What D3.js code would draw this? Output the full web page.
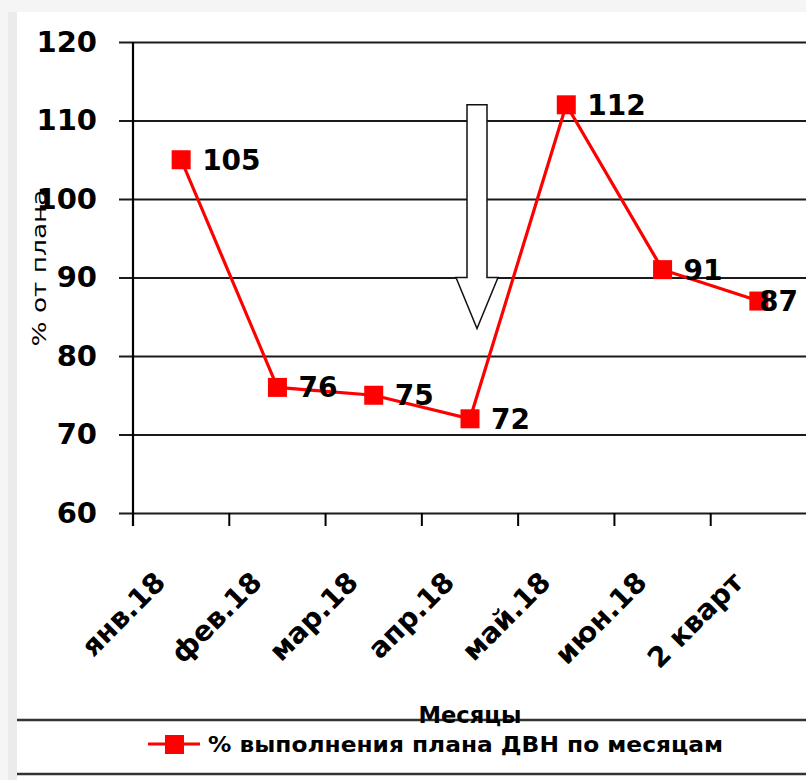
<!DOCTYPE html>
<html>
<head>
<meta charset="utf-8">
<script src="https://cdn.jsdelivr.net/npm/d3@7"></script>
<style>
  body { margin: 0; background: #f5f5f5; }
  svg { display: block; }
</style>
</head>
<body>
<div id="chart"></div>
<script>
const categories = ['янв.18', 'фев.18', 'мар.18', 'апр.18', 'май.18', 'июн.18', '2 кварт'];
const planValues = [105, 76, 75, 72, 112, 91, 87];
const yTicks = [60, 70, 80, 90, 100, 110, 120];
const seriesName = '% выполнения плана ДВН по месяцам';
const yTitle = '% от плана';
const xTitle = 'Месяцы';
// hollow arrow annotation (value range on the y scale)
const arrowAt = 'апр.18';
const arrowValues = [112, 90, 83.5];

const W = 806, H = 780;
const margin = { top: 42, left: 133, bottom: 513, right: 807 };
const red = '#ff0000';

const svg = d3.select('#chart')
  .append('svg')
  .attr('width', W)
  .attr('height', H);

// background panels
svg.append('rect').attr('width', W).attr('height', H).attr('fill', '#f5f5f5');
svg.append('rect').attr('x', 8).attr('y', 12).attr('width', 9).attr('height', H - 12).attr('fill', '#ebebeb');
svg.append('rect').attr('x', 17).attr('y', 12).attr('width', W - 17).attr('height', H - 12).attr('fill', '#fff');

// Scales
const y = d3.scaleLinear()
  .domain([60, 120])
  .range([margin.bottom, margin.top]);

const x = d3.scaleBand()
  .domain(categories)
  .range([margin.left, margin.right])
  .padding(0);

const cx = d => x(d) + x.bandwidth() / 2;

// y axis with gridlines
const yAxisGroup = svg.append('g')
  .attr('transform', `translate(119, 0)`)
  .call(d3.axisLeft(y)
    .tickValues(yTicks)
    .tickSizeInner(-(margin.right - 119))
    .tickSizeOuter(0)
    .tickPadding(22));

yAxisGroup.select('.domain').remove();
yAxisGroup.selectAll('line')
  .attr('stroke', '#1a1a1a')
  .attr('stroke-width', 2.2);
yAxisGroup.selectAll('text')
  .attr('fill', '#000')
  .style('font-family', 'DejaVu Sans, sans-serif')
  .style('font-weight', 'bold')
  .style('font-size', '29px');

// vertical axis line
svg.append('line')
  .attr('x1', margin.left).attr('x2', margin.left)
  .attr('y1', margin.top).attr('y2', margin.bottom + 13)
  .attr('stroke', '#000')
  .attr('stroke-width', 2.2);

// x ticks at category boundaries
svg.append('g')
  .selectAll('line')
  .data(categories)
  .enter()
  .append('line')
  .attr('x1', d => x(d)).attr('x2', d => x(d))
  .attr('y1', margin.bottom).attr('y2', margin.bottom + 13)
  .attr('stroke', '#000')
  .attr('stroke-width', 2);

// x labels
svg.append('g')
  .selectAll('text')
  .data(categories)
  .enter()
  .append('text')
  .attr('transform', d => `translate(${cx(d) - 14}, 584) rotate(-45)`)
  .attr('text-anchor', 'end')
  .style('font-family', 'DejaVu Sans, sans-serif')
  .style('font-weight', 'bold')
  .style('font-size', '28px')
  .attr('fill', '#000')
  .text(d => d);

// axis titles
svg.append('text')
  .attr('transform', `translate(46, 268) rotate(-90)`)
  .attr('text-anchor', 'middle')
  .attr('textLength', 157)
  .attr('lengthAdjust', 'spacingAndGlyphs')
  .style('font-family', 'DejaVu Sans, sans-serif')
  .style('font-size', '19px')
  .text(yTitle);

// arrow annotation
const ax = cx(arrowAt) + 7;
const [aTop, aShoulder, aTip] = arrowValues.map(v => y(v));
svg.append('path')
  .attr('d', `M${ax - 10},${aTop} L${ax + 10},${aTop} L${ax + 10},${aShoulder} L${ax + 21},${aShoulder}
    L${ax},${aTip} L${ax - 21},${aShoulder} L${ax - 10},${aShoulder} Z`)
  .attr('fill', '#fff')
  .attr('stroke', '#111')
  .attr('stroke-width', 1.5);

// series line
const points = categories.map((c, i) => ({ name: c, value: planValues[i] }));

svg.append('path')
  .datum(points)
  .attr('fill', 'none')
  .attr('stroke', red)
  .attr('stroke-width', 3.2)
  .attr('d', d3.line().x(d => cx(d.name)).y(d => y(d.value)));

svg.append('g')
  .selectAll('rect')
  .data(points)
  .enter()
  .append('rect')
  .attr('x', d => cx(d.name) - 9.5)
  .attr('y', d => y(d.value) - 9.5)
  .attr('width', 19)
  .attr('height', 19)
  .attr('fill', red);

// value labels
const labels = svg.append('g')
  .selectAll('text')
  .data(points)
  .enter()
  .append('text')
  .attr('x', d => cx(d.name) + 21)
  .attr('y', d => y(d.value))
  .attr('dy', '0.36em')
  .style('font-family', 'DejaVu Sans, sans-serif')
  .style('font-weight', 'bold')
  .style('font-size', '28px')
  .attr('fill', '#000')
  .text(d => d.value);

// keep labels inside the chart edge
labels.each(function () {
  const t = d3.select(this);
  const w = this.getComputedTextLength();
  if (+t.attr('x') + w > W - 8) t.attr('x', W - 8 - w);
});

// legend box
[720, 774].forEach(yy => {
  svg.append('line')
    .attr('x1', 17).attr('x2', W)
    .attr('y1', yy).attr('y2', yy)
    .attr('stroke', '#333')
    .attr('stroke-width', 2.5);
});

svg.append('text')
  .attr('x', 470)
  .attr('y', 723)
  .attr('text-anchor', 'middle')
  .attr('textLength', 103)
  .attr('lengthAdjust', 'spacingAndGlyphs')
  .style('font-family', 'DejaVu Sans, sans-serif')
  .style('font-weight', 'bold')
  .style('font-size', '23px')
  .text(xTitle);

svg.append('line')
  .attr('x1', 148).attr('x2', 200)
  .attr('y1', 744).attr('y2', 744)
  .attr('stroke', red)
  .attr('stroke-width', 3);
svg.append('rect')
  .attr('x', 165).attr('y', 735)
  .attr('width', 19).attr('height', 19)
  .attr('fill', red);

svg.append('text')
  .attr('x', 208)
  .attr('y', 752)
  .attr('textLength', 515)
  .attr('lengthAdjust', 'spacingAndGlyphs')
  .style('font-family', 'DejaVu Sans, sans-serif')
  .style('font-weight', 'bold')
  .style('font-size', '21px')
  .text(seriesName);
</script>
</body>
</html>
